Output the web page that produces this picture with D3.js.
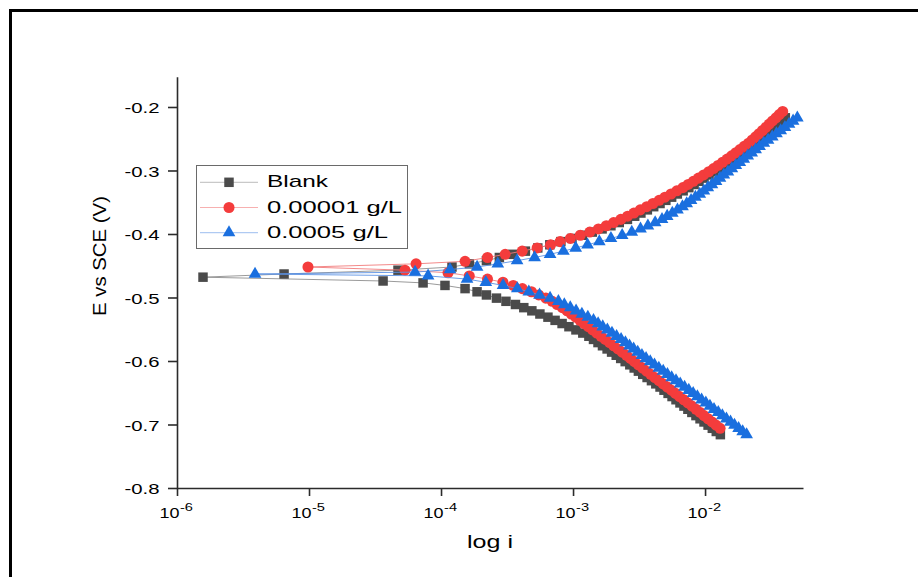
<!DOCTYPE html>
<html>
<head>
<meta charset="utf-8">
<script src="https://cdn.jsdelivr.net/npm/d3@7"></script>
<style>
  html, body { margin: 0; padding: 0; background: #fff; }
  svg { display: block; font-family: "Liberation Sans", Arial, sans-serif; }
</style>
</head>
<body>
<div id="chart"></div>
<script>
// Tafel scans, E in V vs SCE, current stored as log10(i)
let blankE = [
  -0.716, -0.711, -0.706, -0.701, -0.696, -0.691, -0.686, -0.681, -0.676, -0.671,
  -0.666, -0.661, -0.656, -0.651, -0.646, -0.641, -0.636, -0.631, -0.626, -0.621,
  -0.616, -0.611, -0.606, -0.601, -0.596, -0.591, -0.586, -0.581, -0.576, -0.571,
  -0.566, -0.561, -0.556, -0.551, -0.546, -0.541, -0.536, -0.531, -0.526, -0.521,
  -0.516, -0.511, -0.506, -0.501, -0.496, -0.491,
  -0.486, -0.481, -0.477, -0.474, -0.468, -0.463, -0.457,
  -0.452, -0.447, -0.442, -0.437, -0.432, -0.427, -0.422, -0.417, -0.412, -0.407,
  -0.402, -0.397, -0.392, -0.387, -0.382, -0.377, -0.372, -0.367, -0.362, -0.357,
  -0.352, -0.347, -0.342, -0.337, -0.332, -0.327, -0.322, -0.317, -0.312, -0.307,
  -0.302, -0.297, -0.292, -0.287, -0.282, -0.277, -0.272, -0.267, -0.262, -0.257,
  -0.252, -0.247, -0.242, -0.237, -0.232, -0.227, -0.222, -0.217
];
let blankLogI = [
  -1.884, -1.915, -1.945, -1.977, -2.008, -2.038, -2.069, -2.100, -2.130, -2.160,
  -2.190, -2.220, -2.250, -2.280, -2.311, -2.341, -2.373, -2.406, -2.439, -2.472,
  -2.505, -2.537, -2.570, -2.605, -2.639, -2.673, -2.708, -2.742, -2.777, -2.811,
  -2.845, -2.880, -2.926, -2.978, -3.031, -3.083, -3.136, -3.190, -3.251, -3.312,
  -3.373, -3.436, -3.508, -3.580, -3.656, -3.727,
  -3.818, -3.970, -4.136, -4.439, -5.803, -5.189, -4.326,
  -3.917, -3.785, -3.656, -3.558, -3.458, -3.361, -3.267, -3.176, -3.092, -3.008,
  -2.929, -2.854, -2.780, -2.713, -2.650, -2.588, -2.533, -2.486, -2.437, -2.389,
  -2.341, -2.297, -2.253, -2.210, -2.166, -2.123, -2.083, -2.046, -2.008, -1.970,
  -1.933, -1.898, -1.864, -1.830, -1.795, -1.761, -1.730, -1.698, -1.665, -1.633,
  -1.602, -1.570, -1.539, -1.508, -1.479, -1.450, -1.420, -1.392
];

let lowE = [
  -0.706, -0.701, -0.696, -0.691, -0.686, -0.681, -0.676, -0.671, -0.666, -0.661,
  -0.656, -0.651, -0.646, -0.641, -0.636, -0.631, -0.626, -0.621, -0.616, -0.611,
  -0.606, -0.601, -0.596, -0.591, -0.586, -0.581, -0.576, -0.571, -0.566, -0.561,
  -0.556, -0.551, -0.546, -0.541, -0.536, -0.531, -0.526, -0.521, -0.516, -0.511,
  -0.506, -0.501, -0.496, -0.491, -0.486, -0.481, -0.476, -0.471, -0.466, -0.461,
  -0.457, -0.452, -0.447, -0.443,
  -0.437, -0.432, -0.427, -0.422, -0.417, -0.412, -0.407, -0.402, -0.397, -0.392,
  -0.387, -0.382, -0.377, -0.372, -0.367, -0.362, -0.357, -0.352, -0.347, -0.342,
  -0.337, -0.332, -0.327, -0.322, -0.317, -0.312, -0.307, -0.302, -0.297, -0.292,
  -0.287, -0.282, -0.277, -0.272, -0.267, -0.262, -0.257, -0.252, -0.247, -0.242,
  -0.237, -0.232, -0.227, -0.222, -0.217, -0.212, -0.207
];
let lowLogI = [
  -1.886, -1.917, -1.947, -1.977, -2.008, -2.037, -2.068, -2.099, -2.130, -2.161,
  -2.193, -2.224, -2.255, -2.286, -2.318, -2.349, -2.380, -2.412, -2.443, -2.473,
  -2.505, -2.535, -2.565, -2.595, -2.628, -2.660, -2.692, -2.723, -2.756, -2.788,
  -2.820, -2.852, -2.884, -2.916, -2.948, -2.980, -3.013, -3.045, -3.081, -3.120,
  -3.158, -3.206, -3.260, -3.315, -3.384, -3.453, -3.531, -3.648, -3.786, -3.947,
  -4.273, -5.008, -4.189, -3.818,
  -3.648, -3.514, -3.385, -3.272, -3.170, -3.098, -3.020, -2.945, -2.873, -2.808,
  -2.748, -2.693, -2.638, -2.587, -2.539, -2.491, -2.442, -2.395, -2.348, -2.304,
  -2.258, -2.214, -2.168, -2.128, -2.089, -2.050, -2.011, -1.972, -1.936, -1.902,
  -1.867, -1.833, -1.799, -1.767, -1.736, -1.704, -1.671, -1.643, -1.617, -1.591,
  -1.565, -1.539, -1.514, -1.489, -1.463, -1.438, -1.412
];

let highE = [
  -0.716, -0.711, -0.706, -0.701, -0.696, -0.691, -0.686, -0.681, -0.676, -0.671,
  -0.666, -0.661, -0.656, -0.651, -0.646, -0.641, -0.636, -0.631, -0.626, -0.621,
  -0.616, -0.611, -0.606, -0.601, -0.596, -0.591, -0.586, -0.581, -0.576, -0.571,
  -0.566, -0.561, -0.556, -0.551, -0.546, -0.541, -0.536, -0.531, -0.526, -0.521,
  -0.516, -0.511, -0.506, -0.501, -0.496, -0.491, -0.486, -0.481, -0.476, -0.471,
  -0.466, -0.463, -0.460, -0.456,
  -0.452, -0.447, -0.442, -0.437, -0.432, -0.427, -0.422, -0.417, -0.412, -0.407,
  -0.402, -0.397, -0.392, -0.387, -0.382, -0.377, -0.372, -0.367, -0.362, -0.357,
  -0.352, -0.347, -0.342, -0.337, -0.332, -0.327, -0.322, -0.317, -0.312, -0.307,
  -0.302, -0.297, -0.292, -0.287, -0.282, -0.277, -0.272, -0.267, -0.262, -0.257,
  -0.252, -0.247, -0.242, -0.237, -0.232, -0.227, -0.222, -0.217
];
let highLogI = [
  -1.685, -1.715, -1.746, -1.777, -1.807, -1.838, -1.869, -1.900, -1.932, -1.963,
  -1.994, -2.026, -2.058, -2.090, -2.123, -2.155, -2.188, -2.220, -2.253, -2.285,
  -2.317, -2.350, -2.383, -2.415, -2.447, -2.478, -2.510, -2.541, -2.572, -2.603,
  -2.636, -2.670, -2.705, -2.740, -2.775, -2.810, -2.845, -2.888, -2.933, -2.977,
  -3.021, -3.066, -3.111, -3.174, -3.254, -3.335, -3.422, -3.530, -3.661, -3.803,
  -4.098, -5.409, -4.197, -3.932,
  -3.727, -3.570, -3.424, -3.291, -3.174, -3.073, -2.980, -2.890, -2.801, -2.713,
  -2.628, -2.555, -2.489, -2.433, -2.378, -2.326, -2.287, -2.248, -2.209, -2.171,
  -2.139, -2.106, -2.073, -2.040, -2.009, -1.979, -1.948, -1.917, -1.887, -1.858,
  -1.827, -1.797, -1.767, -1.737, -1.707, -1.677, -1.647, -1.617, -1.587, -1.555,
  -1.523, -1.491, -1.459, -1.427, -1.395, -1.364, -1.333, -1.301
];

let seriesNames = ["Blank", "0.00001 g/L", "0.0005 g/L"];
let yTicks = [-0.8, -0.7, -0.6, -0.5, -0.4, -0.3, -0.2];
let xTickExp = [-6, -5, -4, -3, -2];

let width = 918, height = 577;
let svg = d3.select("#chart").append("svg")
  .attr("width", width)
  .attr("height", height);

// black frame round the figure (runs off the right and bottom edges)
svg.append("rect")
  .attr("x", 10.5).attr("y", 10.5)
  .attr("width", 1200).attr("height", 1200)
  .attr("fill", "none")
  .attr("stroke", "#000")
  .attr("stroke-width", 3);

let x = d3.scaleLog().domain([1e-6, 0.0552]).range([177, 803]);
let y = d3.scaleLinear().domain([-0.8, -0.1523]).range([488, 76.7]);

let series = [
  { name: seriesNames[0], E: blankE, logI: blankLogI, fill: "#4b4b4b", line: "#8f8f8f", shape: d3.symbolSquare, size: 90 },
  { name: seriesNames[1], E: lowE, logI: lowLogI, fill: "#f43c3c", line: "#f27c7c", shape: d3.symbolCircle, size: 96 },
  { name: seriesNames[2], E: highE, logI: highLogI, fill: "#1a6fdf", line: "#5b92e4", shape: d3.symbolTriangle, size: 70 }
];

// axes
let yAxis = svg.append("g")
  .attr("transform", "translate(177,0)")
  .call(d3.axisLeft(y).tickValues(yTicks).tickSize(9).tickSizeOuter(0).tickFormat(d => d.toFixed(1)));

let xAxis = svg.append("g")
  .attr("transform", "translate(0,488)")
  .call(d3.axisBottom(x).tickValues(xTickExp.map(e => Math.pow(10, e))).tickSize(8).tickSizeOuter(0).tickFormat(""));

svg.selectAll(".domain, .tick line")
  .attr("stroke", "#2b2b2b")
  .attr("stroke-width", 1.6);

yAxis.selectAll("text")
  .attr("x", -17.5)
  .attr("dy", "0.39em")
  .attr("font-size", 14.5)
  .attr("fill", "#000")
  .attr("textLength", 35)
  .attr("lengthAdjust", "spacingAndGlyphs")
  .attr("font-family", null);

// 10^n labels
let xLab = svg.append("g").attr("fill", "#000");
xTickExp.forEach(e => {
  let cx = x(Math.pow(10, e));
  xLab.append("text")
    .attr("x", cx - 17.5).attr("y", 517.5)
    .attr("font-size", 15)
    .attr("textLength", 20)
    .attr("lengthAdjust", "spacingAndGlyphs")
    .text("10");
  xLab.append("text")
    .attr("x", cx + 3).attr("y", 511)
    .attr("font-size", 10.5)
    .attr("textLength", 13)
    .attr("lengthAdjust", "spacingAndGlyphs")
    .text(String(e));
});

// axis titles
svg.append("text")
  .attr("transform", "translate(105.5,256) rotate(-90)")
  .attr("text-anchor", "middle")
  .attr("font-size", 19)
  .attr("textLength", 120)
  .attr("lengthAdjust", "spacingAndGlyphs")
  .text("E vs SCE (V)");

svg.append("text")
  .attr("x", 490).attr("y", 548)
  .attr("text-anchor", "middle")
  .attr("font-size", 19)
  .attr("textLength", 46)
  .attr("lengthAdjust", "spacingAndGlyphs")
  .text("log i");

// curves
let line = d3.line().x(d => x(d.i)).y(d => y(d.E));

series.forEach(s => {
  let pts = s.E.map((e, k) => ({ E: e, i: Math.pow(10, s.logI[k]) }));
  svg.append("path")
    .datum(pts)
    .attr("d", line)
    .attr("fill", "none")
    .attr("stroke", s.line)
    .attr("stroke-width", 0.9);
  svg.append("g")
    .selectAll("path")
    .data(pts)
    .enter()
    .append("path")
    .attr("transform", d => `translate(${x(d.i)},${y(d.E)})`)
    .attr("d", d3.symbol().type(s.shape).size(s.size))
    .attr("fill", s.fill);
});

// legend
let legend = svg.append("g");
legend.append("rect")
  .attr("x", 196.5).attr("y", 165.5)
  .attr("width", 211).attr("height", 83)
  .attr("fill", "#fff")
  .attr("stroke", "#6a6a6a")
  .attr("stroke-width", 1);

let rowY = [182.3, 207.5, 232.7];
let labelLen = [61, 135, 121];
series.forEach((s, k) => {
  let cy = rowY[k];
  legend.append("line")
    .attr("x1", 200).attr("x2", 258)
    .attr("y1", cy).attr("y2", cy)
    .attr("stroke", s.line)
    .attr("stroke-opacity", 0.6)
    .attr("stroke-width", 1);
  legend.append("path")
    .attr("transform", `translate(229,${cy})`)
    .attr("d", d3.symbol().type(s.shape).size(s.size))
    .attr("fill", s.fill);
  legend.append("text")
    .attr("x", 267).attr("y", cy + 5)
    .attr("font-size", 17)
    .attr("textLength", labelLen[k])
    .attr("lengthAdjust", "spacingAndGlyphs")
    .text(s.name);
});
</script>
</body>
</html>
